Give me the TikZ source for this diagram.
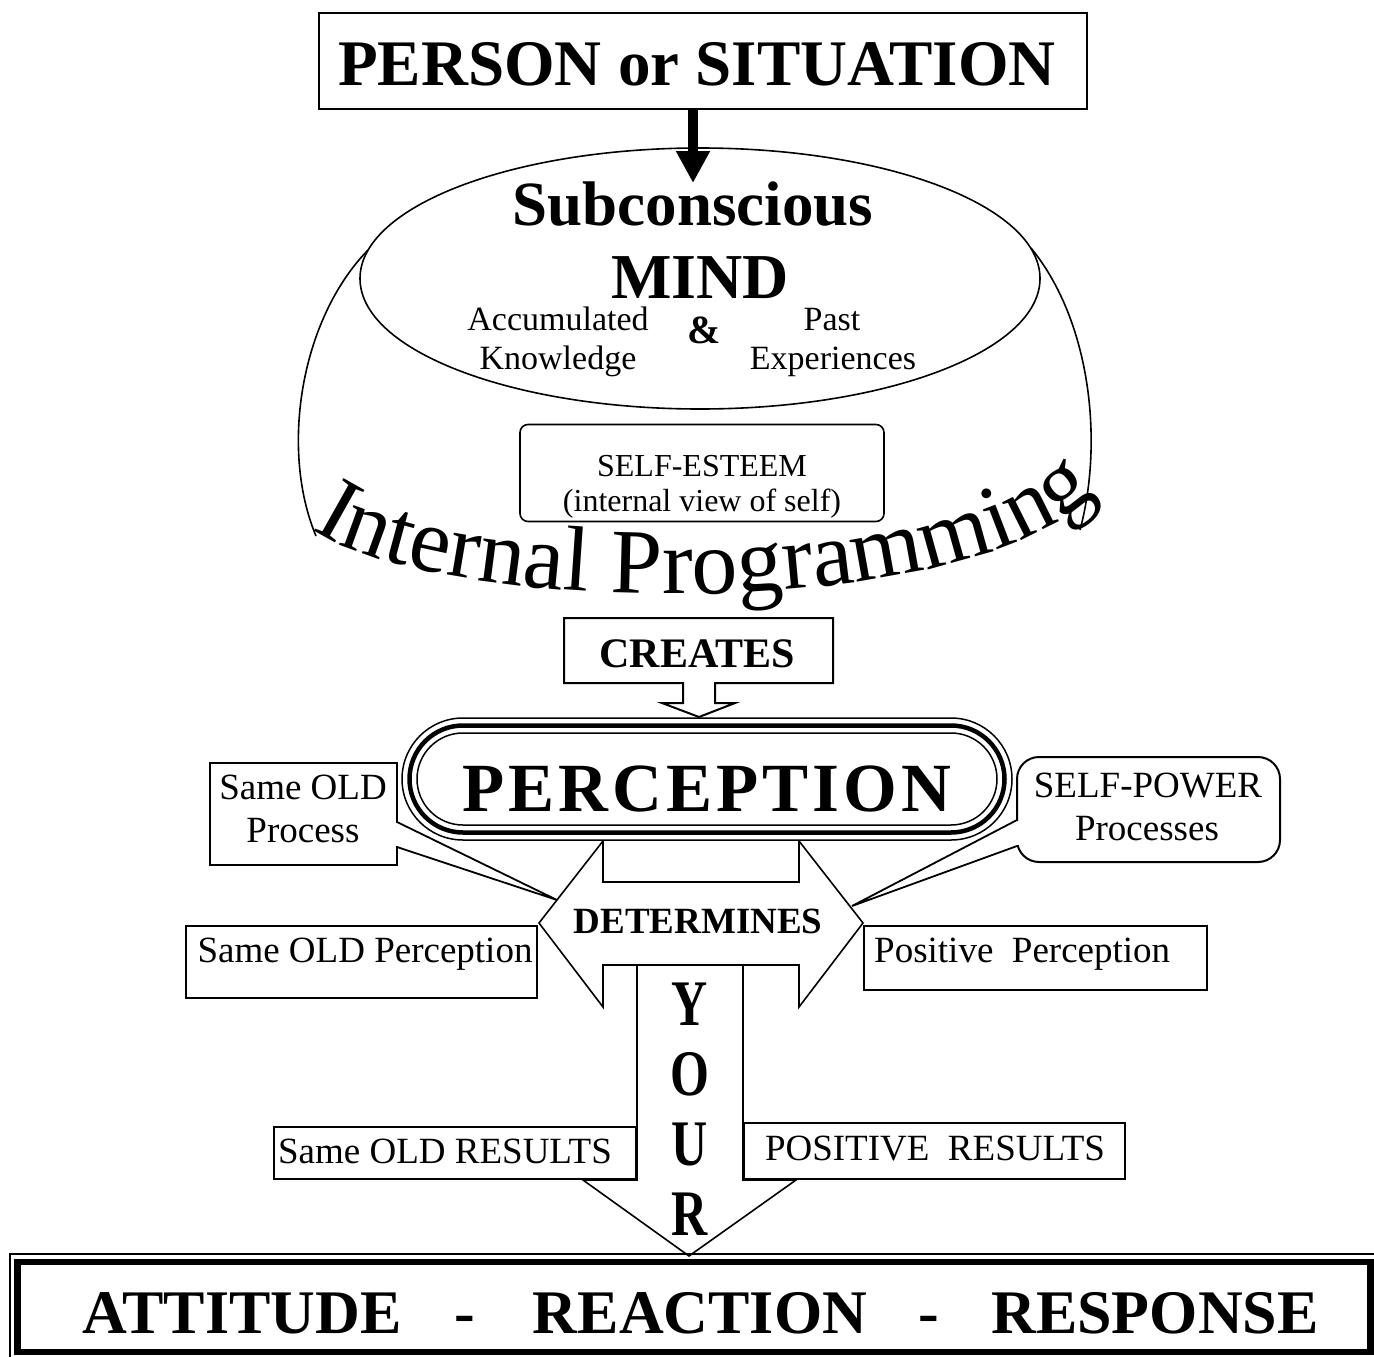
\documentclass[tikz,border=0pt]{standalone}
\usepackage{fontspec}
\setmainfont{Liberation Serif}
\usepackage{graphicx}
\usetikzlibrary{shapes.geometric,arrows.meta,decorations.text}
\begin{document}
\begin{tikzpicture}[x=1pt,y=-1pt,
  txt/.style={inner sep=0pt, anchor=base},
  reg/.style={txt, font=\fontsize{37}{37}\selectfont},
  boxstyle/.style={draw, line width=2pt, fill=white, inner sep=0pt},
  thinline/.style={line width=1.6pt},
  bigbold/.style={txt, font=\bfseries\fontsize{62}{62}\selectfont}]
\useasboundingbox (0,0) rectangle (1374,1357);
\clip (0,0) rectangle (1374,1357);
\fill[white] (0,0) rectangle (1374,1357);

% subconscious ellipse and arch
\node[draw, ellipse, thinline, minimum width=680pt, minimum height=261pt, inner sep=0pt] (mind) at (700,278.5) {};
\draw[thinline] (368,250) .. controls (300,320) and (280,450) .. (316,536);
\draw[thinline] (1031,248) .. controls (1090,320) and (1104,440) .. (1080,530);

% top box and arrow
\node[boxstyle, minimum width=768pt, minimum height=96pt] (top) at (703,61) {};
\node[txt, font=\bfseries\fontsize{65}{65}\selectfont] (tperson) at (697,85) {PERSON or SITUATION};
\coordinate (atip) at (693,183);
\draw[line width=10pt, -{Triangle[width=32pt,length=32pt]}] (top.south -| atip) -- (atip);

% mind texts
\node[txt, font=\bfseries\fontsize{63}{63}\selectfont] (tsub) at (693,225) {Subconscious};
\node[txt, font=\bfseries\fontsize{64}{64}\selectfont] (tmind) at (700,298) {MIND};
\node[txt, font=\fontsize{34}{34}\selectfont] (tacc) at (558,330) {Accumulated};
\node[txt, font=\fontsize{34}{34}\selectfont] (tknow) at (558,369) {Knowledge};
\node[txt, font=\fontsize{34}{34}\selectfont] (tpast) at (832,330) {Past};
\node[txt, font=\fontsize{34}{34}\selectfont] (texp) at (833,369) {Experiences};
\node[txt, font=\bfseries\fontsize{40}{40}\selectfont] (tamp) at (704,343) {\&};

% self-esteem
\node[boxstyle, line width=1.6pt, rounded corners=8pt, minimum width=364pt, minimum height=97pt] (se) at (702,473) {};
\node[txt, font=\fontsize{32}{32}\selectfont] (tse1) at (702,476) {SELF-ESTEEM};
\node[txt, font=\fontsize{32}{32}\selectfont] (tse2) at (702,511) {(internal view of self)};

% internal programming
\path[decorate, decoration={text along path, text align=center,
  text={|\fontsize{92}{92}\selectfont|Internal Programming}}]
  (314,530) .. controls (436,614) and (958,628) .. (1094,494);

% creates
\draw[line width=2pt, fill=white] (564,618) -- (833,618) -- (833,683) -- (715,683) -- (715,703) -- (735,703) -- (699,717) -- (662,703) -- (683,703) -- (683,683) -- (564,683) -- cycle;
\node[txt, font=\bfseries\fontsize{42}{42}\selectfont] (tcreates) at (697,667) {CREATES};

% YOUR down arrow
\draw[thinline, fill=white] (637,965) -- (743,965) -- (743,1180) -- (796,1180) -- (689,1256) -- (583,1180) -- (637,1180) -- cycle;
% determines double arrow
\draw[thinline, fill=white] (539,923) -- (603,841) -- (603,882) -- (799,882) -- (799,841) -- (863,923) -- (799,1007) -- (799,965) -- (603,965) -- (603,1007) -- cycle;
\node[txt, font=\bfseries\fontsize{37}{37}\selectfont] (tdet) at (698,933) {DETERMINES};
\node[txt] (ty) at (690,1025) {\scalebox{0.77}[1]{\bfseries\fontsize{65}{65}\selectfont Y}};
\node[txt] (to) at (690,1095) {\scalebox{0.77}[1]{\bfseries\fontsize{65}{65}\selectfont O}};
\node[txt] (tu) at (690,1165) {\scalebox{0.77}[1]{\bfseries\fontsize{65}{65}\selectfont U}};
\node[txt] (tr) at (690,1235) {\scalebox{0.77}[1]{\bfseries\fontsize{65}{65}\selectfont R}};

% perception stadium
\draw[line width=1.5pt, fill=white, rounded corners=61pt] (402,718) rectangle (1012,840);
\draw[line width=4.5pt, rounded corners=53.5pt] (409.5,725.5) rectangle (1004.5,832.5);
\draw[line width=1.5pt, rounded corners=46pt] (417,733) rectangle (997,825);
\node[txt, font=\bfseries\fontsize{69}{69}\selectfont] (tperc) at (707,811) {P\kern4pt E\kern4pt R\kern4pt C\kern4pt E\kern4pt P\kern4pt T\kern4pt I\kern4pt O\kern4pt N};

% left callout
\node[boxstyle, minimum width=187pt, minimum height=102pt] (sop) at (303.5,814) {};
\coordinate (lp1) at (397,822);
\coordinate (lp2) at (397,847);
\coordinate (ltip) at (557,900);
\fill[white] (395.5,823) rectangle (399,846);
\draw[line width=1.8pt] (lp1) -- (ltip) -- (lp2);
\node[reg] (tsop1) at (303,799) {Same OLD};
\node[reg] (tsop2) at (303,842) {Process};

% right callout
\node[boxstyle, rounded corners=22pt, minimum width=263pt, minimum height=105pt] (spp) at (1148.5,809.5) {};
\coordinate (rp1) at (1017,820);
\coordinate (rp2) at (1017,846);
\coordinate (rtip) at (852,906);
\fill[white] (1014.5,821) rectangle (1018.5,845);
\draw[line width=1.8pt] (rp1) -- (rtip) -- (rp2);
\node[reg] (tspp1) at (1148,797) {SELF-POWER};
\node[reg] (tspp2) at (1147,840) {Processes};

% perception boxes
\node[boxstyle, minimum width=351pt, minimum height=72pt] (sopc) at (361.5,962) {};
\node[reg] (tsopc) at (365,962) {Same OLD Perception};
\node[boxstyle, minimum width=343pt, minimum height=64pt] (pp) at (1035.5,958) {};
\node[reg, anchor=base west] (tpp) at (874,962) {Positive~~Perception};

% results boxes
\node[boxstyle, line width=2.4pt, minimum width=362pt, minimum height=52pt] (sor) at (455,1153) {};
\node[reg] (tsor) at (445,1163) {Same OLD RESULTS};
\node[boxstyle, line width=2.4pt, minimum width=381pt, minimum height=56pt] (pr) at (934.5,1151) {};
\node[reg] (tpr) at (935,1160) {POSITIVE~~RESULTS};

% bottom box
\draw[line width=1.5pt] (10,1254) rectangle (1380,1362);
\draw[line width=6.5pt] (17.5,1262) rectangle (1370.5,1352);
\node[bigbold] (tatt) at (242,1333) {ATTITUDE};
\node[bigbold] (td1) at (465,1333) {-};
\node[bigbold] (treac) at (700,1333) {REACTION};
\node[bigbold] (td2) at (929,1333) {-};
\node[bigbold] (tresp) at (1155,1333) {RESPONSE};
\end{tikzpicture}
\end{document}
